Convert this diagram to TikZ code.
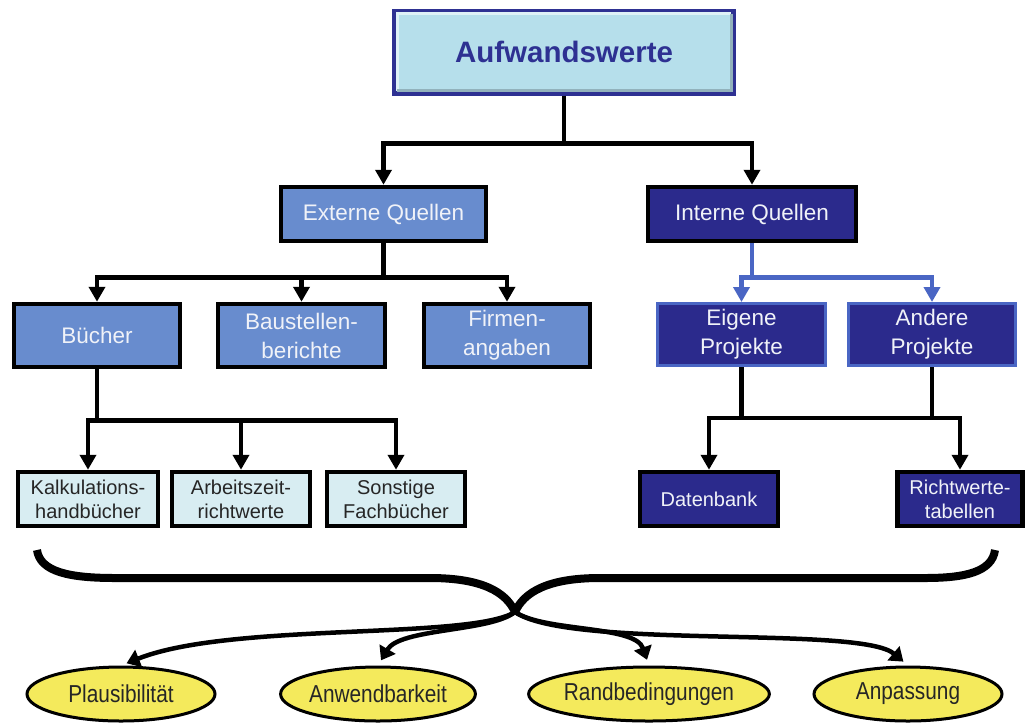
\documentclass[tikz,border=0pt]{standalone}
\usepackage{fontspec}
\setmainfont{Liberation Sans}
\newfontfamily\narrowsans[FakeStretch=0.85]{Liberation Sans}
\usetikzlibrary{arrows.meta,shapes.geometric,calc}
\definecolor{navy}{RGB}{43,42,140}
\definecolor{midblue}{RGB}{104,140,206}
\definecolor{paleblue}{RGB}{216,237,242}
\definecolor{topfill}{RGB}{182,223,235}
\definecolor{topedge}{RGB}{46,49,146}
\definecolor{linkblue}{RGB}{74,102,196}
\definecolor{oval}{RGB}{244,234,92}
\definecolor{boxtext}{RGB}{240,242,248}

\begin{document}
\begin{tikzpicture}[x=1pt,y=-1pt,
  mid/.style={rectangle, draw=black, line width=4.5pt, fill=midblue, text=boxtext,
    font=\fontsize{22.5}{29}\selectfont, align=center, inner sep=0pt},
  dark/.style={mid, fill=navy},
  pale/.style={mid, fill=paleblue, text=black!85, font=\fontsize{20}{24}\selectfont},
  darksmall/.style={dark, font=\fontsize{20}{24}\selectfont},
  outlined/.style={dark, draw=linkblue, line width=3pt},
  goal/.style={ellipse, draw=black, line width=3pt, fill=oval, text=black!85,
    font=\narrowsans\fontsize{24.5}{28}\selectfont, inner sep=0pt, minimum width=188pt, minimum height=54pt},
  conn/.style={draw=black, line width=4.5pt, -{Triangle[length=15pt,width=16pt]}},
  bluelink/.style={conn, draw=linkblue, -{Triangle[length=15pt,width=16pt,color=linkblue]}},
  plain/.style={draw=black, line width=4.5pt},
  goalarrow/.style={draw=black, line width=4.5pt, -{Triangle[length=13pt,width=18pt]}, shorten >=6pt},
  brace/.style={draw=black, line width=8pt}]

\fill[white] (0,0) rectangle (1025,724);
\useasboundingbox (0,0) rectangle (1025,724);

% title box with bevelled frame
\node[draw=topedge, line width=5pt, fill=topfill, minimum width=339pt, minimum height=82pt,
      inner sep=0pt] (top) at (564,52) {};
\draw[white!55!topfill, line width=3pt]
  ($(top.south west)+(5,-5)$) -- ($(top.north west)+(5,5)$) -- ($(top.north east)+(-5,5)$);
\draw[topfill!80!black, line width=3pt]
  ($(top.north east)+(-5,5)$) -- ($(top.south east)+(-5,-5)$) -- ($(top.south west)+(5,-5)$);
\node[text=topedge, font=\bfseries\fontsize{29.5}{34}\selectfont] (title) at (top.center) {Aufwandswerte};

% second level
\node[mid, minimum width=205pt, minimum height=54pt] (ext) at (383.5,214) {Externe Quellen};
\node[dark, minimum width=208pt, minimum height=54pt] (int) at (752,214) {Interne Quellen};

% third level
\node[mid, minimum width=166pt, minimum height=63pt] (buch) at (97,335.5) {Bücher};
\node[mid, minimum width=167pt, minimum height=63pt] (baus) at (301.5,335.5) {Baustellen-\\berichte};
\node[mid, minimum width=166pt, minimum height=63pt] (firm) at (507,335.5) {Firmen-\\angaben};
\node[outlined, minimum width=168pt, minimum height=62pt] (eig) at (741.5,334.5) {Eigene\\Projekte};
\node[outlined, minimum width=167pt, minimum height=62pt] (and) at (932,334.5) {Andere\\Projekte};

% fourth level
\node[pale, minimum width=140pt, minimum height=54pt] (kalk) at (88,499) {Kalkulations-\\handbücher};
\node[pale, minimum width=138pt, minimum height=54pt] (arb) at (241,499) {Arbeitszeit-\\richtwerte};
\node[pale, minimum width=138pt, minimum height=54pt] (son) at (396,499) {Sonstige\\Fachbücher};
\node[darksmall, minimum width=138pt, minimum height=54pt] (dat) at (709,499) {Datenbank};
\node[darksmall, minimum width=125pt, minimum height=54pt] (richt) at (960,499) {Richtwerte-\\tabellen};

% tree connectors
\draw[conn] (top.south) -- ++(0,48) -| (ext.north);
\draw[conn] (top.south) -- ++(0,48) -| (int.north);
\draw[conn] (ext.south) -- ++(0,34) -| (buch.north);
\draw[conn] (ext.south) -- ++(0,34) -| (baus.north);
\draw[conn] (ext.south) -- ++(0,34) -| (firm.north);
\draw[bluelink] (int.south) -- ++(0,34) -| (eig.north);
\draw[bluelink] (int.south) -- ++(0,34) -| (and.north);
\draw[conn] (buch.south) -- ++(0,51) -| (kalk.north);
\draw[conn] (buch.south) -- ++(0,51) -| (arb.north);
\draw[conn] (buch.south) -- ++(0,51) -| (son.north);
\draw[conn] (eig.south) -- ++(0,51) -| (dat.north);
\draw[conn] (and.south) -- ++(0,51) -| (richt.north);
\draw[plain] ($(eig.south)+(0,51)$) -- ($(and.south)+(0,51)$);

% criteria
\node[goal] (pl) at (121,694) {Plausibilität};
\node[goal] (an) at (378,694) {Anwendbarkeit};
\node[goal] (ra) at (649,694) {Randbedingungen};
\node[goal] (ap) at (908,694) {Anpassung};

% gathering brace
\coordinate (knot) at (515,612);
\coordinate (braceL) at (37,550);
\coordinate (braceR) at (995,550);
\draw[brace] (braceL) .. controls (40,572) and (70,578) .. (115,578) -- (430,578)
  .. controls (482,578) and (506,592) .. (knot);
\draw[brace] (knot) .. controls (524,592) and (548,578) .. (600,578) -- (925,578)
  .. controls (965,578) and (992,572) .. (braceR);

\draw[goalarrow] (knot) .. controls (470,640) and (230,622) .. (pl.north);
\draw[goalarrow] (knot) .. controls (490,632) and (400,628) .. (an.north);
\draw[goalarrow] (knot) .. controls (545,632) and (635,625) .. (ra.north);
\draw[goalarrow] (knot) .. controls (570,650) and (860,625) .. (ap.north);
\end{tikzpicture}
\end{document}
